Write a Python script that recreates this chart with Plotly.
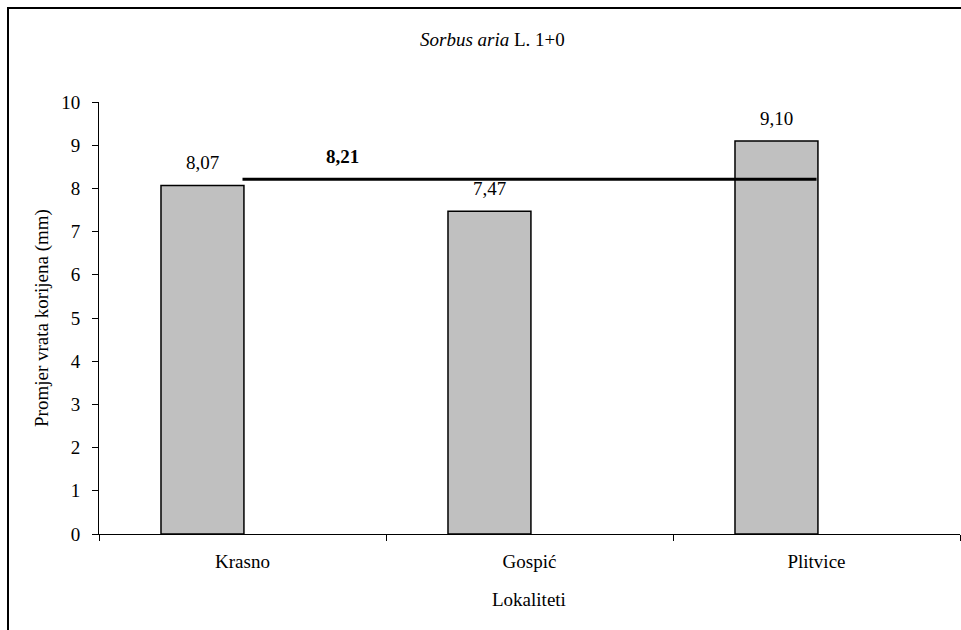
import plotly.graph_objects as go

categories = ["Krasno", "Gospić", "Plitvice"]
values = [8.07, 7.47, 9.10]
mean_value = 8.21
value_labels = ["8,07", "7,47", "9,10"]
mean_label = "8,21"
y_ticks = list(range(0, 11))

W, H = 961, 630
L, R, T, B = 99, 1, 102, 96
pw, ph = W - L - R, H - T - B

def px_x(p):
    return (p - L) / pw

def px_y(p):
    return (H - B - p) / ph

FONT = "'Liberation Serif', 'Times New Roman', Times, serif"
FS = 19
bar_w = 0.289

fig = go.Figure()
fig.add_trace(go.Bar(
    x=categories, y=values, width=bar_w, offset=-bar_w + 0.005,
    marker=dict(color="#C0C0C0", line=dict(color="black", width=1.5)),
    showlegend=False, hoverinfo="skip",
))
fig.add_trace(go.Scatter(
    x=categories, y=[mean_value] * len(categories), mode="lines",
    line=dict(color="black", width=3), showlegend=False, hoverinfo="skip",
))

annotations = []
for i, (v, lab) in enumerate(zip(values, value_labels)):
    annotations.append(dict(x=i - bar_w / 2 + 0.005, y=v, xref="x", yref="y", text=lab,
                            showarrow=False, yanchor="bottom", yshift=10,
                            font=dict(family=FONT, size=FS, color="black")))
annotations.append(dict(x=0.35, y=mean_value, xref="x", yref="y", text="<b>" + mean_label + "</b>",
                        showarrow=False, yanchor="bottom", yshift=10,
                        font=dict(family=FONT, size=FS, color="black")))
annotations.append(dict(x=px_x(492), y=px_y(40), xref="paper", yref="paper",
                        text="<span style=\"font-family:'Liberation Serif';font-style:italic\">Sorbus aria</span> L. 1+0",
                        showarrow=False, xanchor="center", yanchor="middle",
                        font=dict(family=FONT, size=FS, color="black")))
annotations.append(dict(x=px_x(42), y=px_y(318), xref="paper", yref="paper",
                        text="Promjer vrata korijena (mm)", showarrow=False, textangle=-90,
                        xanchor="center", yanchor="middle",
                        font=dict(family=FONT, size=FS, color="black")))
annotations.append(dict(x=px_x(529), y=px_y(599), xref="paper", yref="paper",
                        text="Lokaliteti", showarrow=False,
                        xanchor="center", yanchor="middle",
                        font=dict(family=FONT, size=FS, color="black")))

fig.update_layout(
    width=W, height=H,
    margin=dict(l=L, r=R, t=T, b=B),
    paper_bgcolor="white", plot_bgcolor="white",
    font=dict(family=FONT, size=FS, color="black"),
    annotations=annotations,
    shapes=[dict(type="rect", xref="paper", yref="paper",
                 x0=px_x(8), x1=px_x(990), y0=px_y(660), y1=px_y(8),
                 line=dict(color="black", width=2), fillcolor="rgba(0,0,0,0)", layer="below")],
    xaxis=dict(type="category", range=[-0.5, 2.5], showline=True, linecolor="black", linewidth=1,
               ticks="outside", tickson="boundaries", ticklen=6, tickcolor="black",
               showgrid=False, zeroline=False, ticklabelstandoff=10,
               tickfont=dict(family=FONT, size=FS, color="black")),
    yaxis=dict(range=[0, 10], tickvals=y_ticks, showline=True, linecolor="black", linewidth=1,
               ticks="outside", ticklen=6, tickcolor="black", showgrid=False, zeroline=False,
               ticklabelstandoff=8, tickfont=dict(family=FONT, size=FS, color="black")),
)

fig.write_html("out.html", config={"displayModeBar": False},
               post_script="document.body.style.margin='0';document.body.style.overflow='hidden';")
